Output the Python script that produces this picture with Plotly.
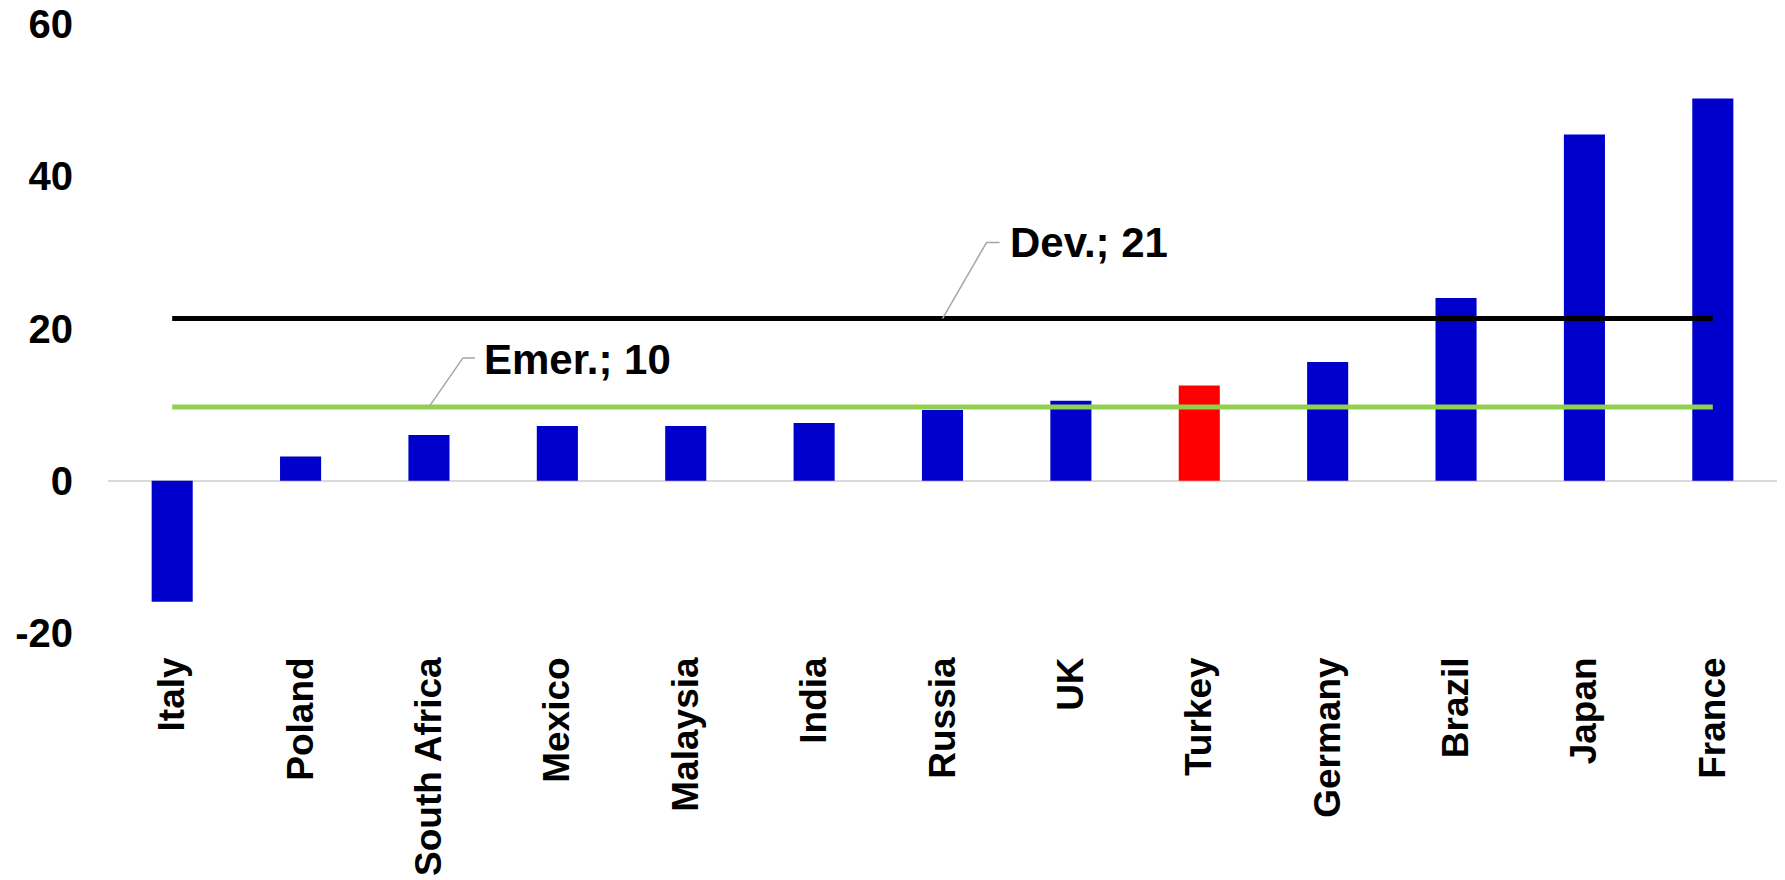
import plotly.graph_objects as go

countries = ["Italy", "Poland", "South Africa", "Mexico", "Malaysia", "India", "Russia",
             "UK", "Turkey", "Germany", "Brazil", "Japan", "France"]
values = [-15.9, 3.2, 6.0, 7.2, 7.2, 7.6, 9.3, 10.5, 12.5, 15.6, 24.0, 45.5, 50.2]
dev_avg = 21.3
emer_avg = 9.7
highlight = "Turkey"
y_ticks = [-20, 0, 20, 40, 60]
y_tick_text = ["-20", "0", "20", "40", "60"]

bar_colors = ["#FF0000" if c == highlight else "#0000CC" for c in countries]
FONT = "Liberation Sans, Arial, sans-serif"

fig = go.Figure()
fig.add_trace(go.Bar(x=countries, y=values, marker=dict(color=bar_colors, line=dict(width=0)),
                     width=0.32, showlegend=False))
fig.add_trace(go.Scatter(x=countries, y=[dev_avg] * len(countries), mode="lines",
                         line=dict(color="#000000", width=5), showlegend=False))
fig.add_trace(go.Scatter(x=countries, y=[emer_avg] * len(countries), mode="lines",
                         line=dict(color="#92D050", width=5), showlegend=False))

labels = [("Dev.; 21", "Russia", dev_avg, 44, 76, 57, 65, 76),
          ("Emer.; 10", "South Africa", emer_avg, 34, 49, 46, 53, 47)]
for text, cat, val, ex, ey, hx, tx, ty in labels:
    fig.add_shape(type="path", xref="x", yref="y", xsizemode="pixel", ysizemode="pixel",
                  xanchor=cat, yanchor=val,
                  path=f"M0,0 L{ex},{ey} L{hx},{ey}",
                  line=dict(color="#A6A6A6", width=1.5))
    fig.add_annotation(x=cat, y=val, text=f"<b>{text}</b>", showarrow=False,
                       xanchor="left", yanchor="middle", xshift=tx, yshift=ty,
                       font=dict(family=FONT, size=42, color="#000000"))

fig.update_layout(
    width=1785, height=880,
    margin=dict(l=100, r=16, t=16, b=255, autoexpand=False),
    plot_bgcolor="white", paper_bgcolor="white",
    font=dict(family=FONT, size=38, color="#000000"),
)
fig.update_xaxes(showgrid=False, showline=False, ticks="", tickangle=-90, automargin=False,
                 ticklabelstandoff=16, ticklabeloverflow="allow",
                 tickfont=dict(family=FONT, size=37, color="#000000", weight="bold"),
                 range=[-0.5, len(countries) - 0.5])
fig.update_yaxes(range=[-20, 60], tickvals=y_ticks, ticktext=y_tick_text, automargin=False,
                 showgrid=False, showline=False, ticklabeloverflow="allow",
                 zeroline=True, zerolinecolor="#D9D9D9", zerolinewidth=2,
                 ticks="", ticklabelstandoff=34,
                 tickfont=dict(family=FONT, size=40, color="#000000", weight="bold"))

fig.write_html("out.html")
